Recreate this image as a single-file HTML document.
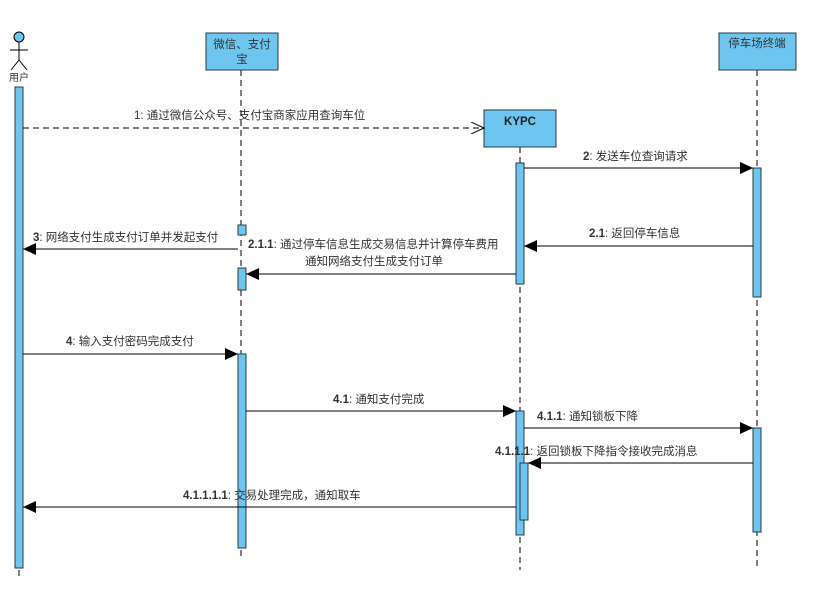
<!DOCTYPE html>
<html><head><meta charset="utf-8"><style>
html,body{margin:0;padding:0;background:#fff;}
svg{display:block;}
text{font-family:"Liberation Sans","Noto Sans CJK SC",sans-serif;font-size:11.5px;fill:#333;}
.b{font-weight:bold;}
</style></head><body>
<svg width="818" height="595" viewBox="0 0 818 595" xmlns="http://www.w3.org/2000/svg">
<defs>
<marker id="f" markerWidth="14" markerHeight="12" refX="13" refY="6" orient="auto" markerUnits="userSpaceOnUse"><path d="M0,0 L13,6 L0,12 Z" fill="#000"/></marker>
<marker id="o" markerWidth="14" markerHeight="12" refX="13" refY="6" orient="auto" markerUnits="userSpaceOnUse"><path d="M0,0 L13,6 L0,12" fill="none" stroke="#000" stroke-width="1"/></marker>
</defs>
<g stroke="#000" stroke-dasharray="6,4" stroke-width="1">
<line x1="19" y1="560" x2="19" y2="580"/>
<line x1="241" y1="70" x2="241" y2="560"/>
<line x1="520" y1="147" x2="520" y2="570"/>
<line x1="757" y1="70" x2="757" y2="570"/>
</g>
<g stroke="#000" fill="none" stroke-width="1">
<circle cx="19" cy="37" r="5" fill="#6ec6f0"/>
<line x1="19" y1="42" x2="19" y2="60"/>
<line x1="10" y1="50" x2="28" y2="50"/>
<line x1="19" y1="60" x2="11" y2="70"/>
<line x1="19" y1="60" x2="27" y2="70"/>
</g>
<text x="19" y="81" text-anchor="middle" style="font-size:10px">用户</text>
<g fill="#6ec6f0" stroke="#2a3a4a" stroke-width="1">
<rect x="206" y="33" width="72" height="37"/>
<rect x="484" y="110" width="72" height="37"/>
<rect x="719" y="33" width="77" height="37"/>
</g>
<text x="242" y="48" text-anchor="middle">微信、支付</text>
<text x="242" y="63" text-anchor="middle">宝</text>
<text x="520" y="125" text-anchor="middle" class="b" style="fill:#222">KYPC</text>
<text x="757" y="47" text-anchor="middle">停车场终端</text>
<g fill="#6ec6f0" stroke="#2a3a4a" stroke-width="1">
<rect x="15" y="87" width="8" height="481"/>
<rect x="238" y="225" width="8" height="10"/>
<rect x="238" y="268" width="8" height="22"/>
<rect x="238" y="354" width="8" height="194"/>
<rect x="516" y="163" width="8" height="121"/>
<rect x="516" y="411" width="8" height="124"/>
<rect x="520" y="463" width="8" height="57"/>
<rect x="753" y="168" width="8" height="129"/>
<rect x="753" y="428" width="8" height="104"/>
</g>
<g stroke="#000" stroke-width="1" fill="none">
<line x1="23" y1="128" x2="484" y2="128" stroke-dasharray="6,4" marker-end="url(#o)"/>
<line x1="524" y1="168" x2="753" y2="168" marker-end="url(#f)"/>
<line x1="753" y1="246" x2="524" y2="246" marker-end="url(#f)"/>
<line x1="516" y1="274" x2="246" y2="274" marker-end="url(#f)"/>
<line x1="238" y1="249" x2="23" y2="249" marker-end="url(#f)"/>
<line x1="23" y1="354" x2="238" y2="354" marker-end="url(#f)"/>
<line x1="246" y1="411" x2="516" y2="411" marker-end="url(#f)"/>
<line x1="524" y1="428" x2="753" y2="428" marker-end="url(#f)"/>
<line x1="753" y1="463" x2="528" y2="463" marker-end="url(#f)"/>
<line x1="516" y1="507" x2="23" y2="507" marker-end="url(#f)"/>
</g>
<g fill="#fff">
<rect x="30" y="227" width="205" height="15"/>
<rect x="246" y="235" width="264" height="32"/>
</g>
<text x="134" y="119">1: 通过微信公众号、支付宝商家应用查询车位</text>
<text x="583" y="160"><tspan class="b">2</tspan>: 发送车位查询请求</text>
<text x="589" y="237"><tspan class="b">2.1</tspan>: 返回停车信息</text>
<text x="33" y="241"><tspan class="b">3</tspan>: 网络支付生成支付订单并发起支付</text>
<text x="248" y="248"><tspan class="b">2.1.1</tspan>: 通过停车信息生成交易信息并计算停车费用</text>
<text x="305" y="265">通知网络支付生成支付订单</text>
<text x="66" y="345"><tspan class="b">4</tspan>: 输入支付密码完成支付</text>
<text x="333" y="403"><tspan class="b">4.1</tspan>: 通知支付完成</text>
<text x="537" y="420"><tspan class="b">4.1.1</tspan>: 通知锁板下降</text>
<text x="495" y="455"><tspan class="b">4.1.1.1</tspan>: 返回锁板下降指令接收完成消息</text>
<text x="183" y="499"><tspan class="b">4.1.1.1.1</tspan>: 交易处理完成，通知取车</text>
</svg>
</body></html>
